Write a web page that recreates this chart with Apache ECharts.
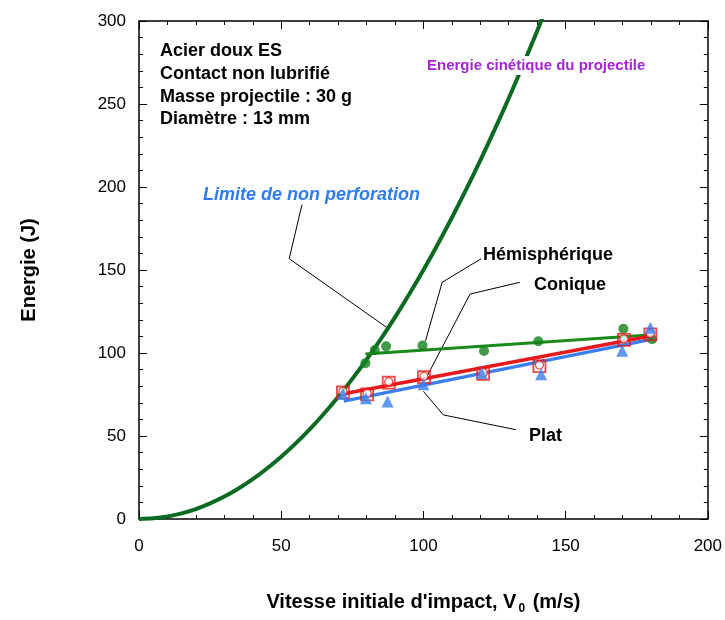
<!DOCTYPE html>
<html><head><meta charset="utf-8">
<script src="https://cdn.jsdelivr.net/npm/echarts@6/dist/echarts.min.js"></script>
<style>html,body{margin:0;padding:0;background:#fff}#c{width:725px;height:620px}</style>
</head><body><div id="c"></div>
<script>
// Kinetic energy curve
const curveV = [0, 5, 10, 15, 20, 25, 30, 35, 40, 45, 50, 55, 60, 65, 70, 75, 80, 85, 90, 95, 100, 105, 110, 115, 120, 125, 130, 135, 140, 145];
const curveE = [0, 0.4, 1.5, 3.4, 6, 9.4, 13.5, 18.4, 24, 30.4, 37.5, 45.4, 54, 63.4, 73.5, 84.4, 96, 108.4, 121.5, 135.4, 150, 165.4, 181.5, 198.4, 216, 234.4, 253.5, 273.4, 294, 315.4];

// Hémisphérique (green circles)
const hemiV = [79.6, 82.9, 86.9, 99.7, 121.3, 140.4, 170.3, 180.4];
const hemiE = [93.9, 101.8, 104, 104.5, 101.2, 107.1, 114.6, 108.3];
const hemiFitV = [79.6, 179.5];
const hemiFitE = [99.4, 110.8];

// Conique (red squares)
const coniV = [71.7, 80.2, 87.8, 100.2, 121, 140.8, 170.5, 179.8];
const coniE = [76.3, 75.1, 82.1, 85.4, 87.5, 92.1, 107.9, 111.2];
const coniFitV = [72, 181];
const coniFitE = [75.5, 110.5];

// Plat (blue triangles)
const platV = [71.7, 79.8, 87.4, 100, 120.5, 141.4, 169.9, 179.8];
const platE = [75.3, 72.8, 70.8, 81.2, 88, 87.2, 101.4, 115.2];
const platFitV = [72, 181];
const platFitE = [71, 108.5];

// Leader lines for annotations (data coordinates)
const leaderLimV = [57.3, 52.8, 87.1];
const leaderLimE = [189.3, 156.8, 115.4];
const leaderHemiV = [120.3, 106.6, 100.7];
const leaderHemiE = [156.8, 142.6, 107.1];
const leaderConiV = [133.9, 116.4, 101.4];
const leaderConiE = [142.6, 135.5, 86.4];
const leaderPlatV = [132.5, 107, 100];
const leaderPlatE = [53.8, 62.7, 76.9];

const xTicks = [0, 50, 100, 150, 200];
const yTicks = [0, 50, 100, 150, 200, 250, 300];

const zip = (a, b) => a.map((v, i) => [v, b[i]]);

const chart = echarts.init(document.getElementById('c'));
const FONT = '"Liberation Sans", Arial, sans-serif';
const axisCommon = {
  type: 'value',
  splitLine: { show: false },
  axisLine: { show: true, onZero: false, lineStyle: { color: '#000', width: 1.5 } },
  axisTick: { show: true, inside: true, length: 8, lineStyle: { color: '#000' } },
  minorTick: { show: true, splitNumber: 5, length: 4, lineStyle: { color: '#000' } },
};
const leader = (v, e) => ({
  type: 'line', data: zip(v, e), symbol: 'none', silent: true,
  lineStyle: { color: '#000', width: 1 }, z: 1
});

chart.setOption({
  animation: false,
  backgroundColor: '#fff',
  grid: { left: 139, right: 14, top: 21, bottom: 92 },
  xAxis: [
    Object.assign({}, axisCommon, {
      min: 0, max: 200, interval: 50, position: 'bottom',
      axisLabel: { color: '#000', fontSize: 17, fontFamily: FONT, margin: 19 },
      name: "Vitesse initiale d'impact, V{s|0} (m/s)",
      nameLocation: 'middle', nameGap: 70,
      nameTextStyle: {
        color: '#000', fontSize: 20, fontWeight: 'bold', fontFamily: FONT,
        rich: { s: { fontSize: 12, fontWeight: 'bold', fontFamily: FONT, color: '#000', verticalAlign: 'bottom', padding: [14, 2, 0, 2] } }
      }
    }),
    Object.assign({}, axisCommon, {
      min: 0, max: 200, interval: 50, position: 'top',
      axisLabel: { show: false }
    })
  ],
  yAxis: [
    Object.assign({}, axisCommon, {
      min: 0, max: 300, interval: 50, position: 'left',
      axisLabel: { color: '#000', fontSize: 17, fontFamily: FONT, margin: 13 },
      name: 'Energie (J)', nameLocation: 'middle', nameGap: 100, nameRotate: 90,
      nameTextStyle: { color: '#000', fontSize: 20, fontWeight: 'bold', fontFamily: FONT }
    }),
    Object.assign({}, axisCommon, {
      min: 0, max: 300, interval: 50, position: 'right',
      axisLabel: { show: false }
    })
  ],
  series: [
    leader(leaderLimV, leaderLimE),
    leader(leaderHemiV, leaderHemiE),
    leader(leaderConiV, leaderConiE),
    leader(leaderPlatV, leaderPlatE),
    {
      type: 'line', name: 'Energie cinétique', data: zip(curveV, curveE), smooth: 0.3,
      symbol: 'none', lineStyle: { color: '#0b6a22', width: 4 }, z: 3, clip: true
    },
    {
      type: 'line', data: zip(hemiFitV, hemiFitE), symbol: 'none',
      lineStyle: { color: '#1a8a1a', width: 3 }, z: 3
    },
    {
      type: 'line', data: zip(coniFitV, coniFitE), symbol: 'none',
      lineStyle: { color: '#e8191c', width: 3.5 }, z: 3
    },
    {
      type: 'line', data: zip(platFitV, platFitE), symbol: 'none',
      lineStyle: { color: '#3a7ff0', width: 3.5 }, z: 3
    },
    {
      type: 'scatter', data: zip(hemiV, hemiE), symbol: 'circle', symbolSize: 10,
      itemStyle: { color: '#13801a' }, z: 5
    },
    {
      type: 'scatter', data: zip(coniV, coniE), symbol: 'rect', symbolSize: 12,
      itemStyle: { color: 'rgba(255,255,255,0)', borderColor: '#e8191c', borderWidth: 1.8 }, z: 5
    },
    {
      type: 'scatter', data: zip(coniV, coniE), symbol: 'circle', symbolSize: 8,
      symbolOffset: [0, -1],
      itemStyle: { color: '#fff', borderColor: '#e8191c', borderWidth: 1.2 }, z: 6
    },
    {
      type: 'scatter', data: zip(platV, platE), symbol: 'triangle', symbolSize: 12,
      itemStyle: { color: '#3a7ff0' }, z: 7
    }
  ],
  graphic: [
    { type: 'text', left: 160, top: 42, style: { text: 'Acier doux ES', font: 'bold 18px ' + FONT, fill: '#000' } },
    { type: 'text', left: 160, top: 65, style: { text: 'Contact non lubrifié', font: 'bold 18px ' + FONT, fill: '#000' } },
    { type: 'text', left: 160, top: 88, style: { text: 'Masse projectile : 30 g', font: 'bold 18px ' + FONT, fill: '#000' } },
    { type: 'text', left: 160, top: 110, style: { text: 'Diamètre : 13 mm', font: 'bold 18px ' + FONT, fill: '#000' } },
    { type: 'text', left: 425, top: 56, z: 100, style: { text: 'Energie cinétique du projectile', font: 'bold 15px ' + FONT, fill: '#a526d6', backgroundColor: '#fff', padding: [2, 2] } },
    { type: 'text', left: 203, top: 186, style: { text: 'Limite de non perforation', font: 'italic bold 18px ' + FONT, fill: '#2f7cf0' } },
    { type: 'text', left: 483, top: 246, style: { text: 'Hémisphérique', font: 'bold 18px ' + FONT, fill: '#000' } },
    { type: 'text', left: 534, top: 276, style: { text: 'Conique', font: 'bold 18px ' + FONT, fill: '#000' } },
    { type: 'text', left: 529, top: 427, style: { text: 'Plat', font: 'bold 18px ' + FONT, fill: '#000' } }
  ]
});
</script>
</body></html>
